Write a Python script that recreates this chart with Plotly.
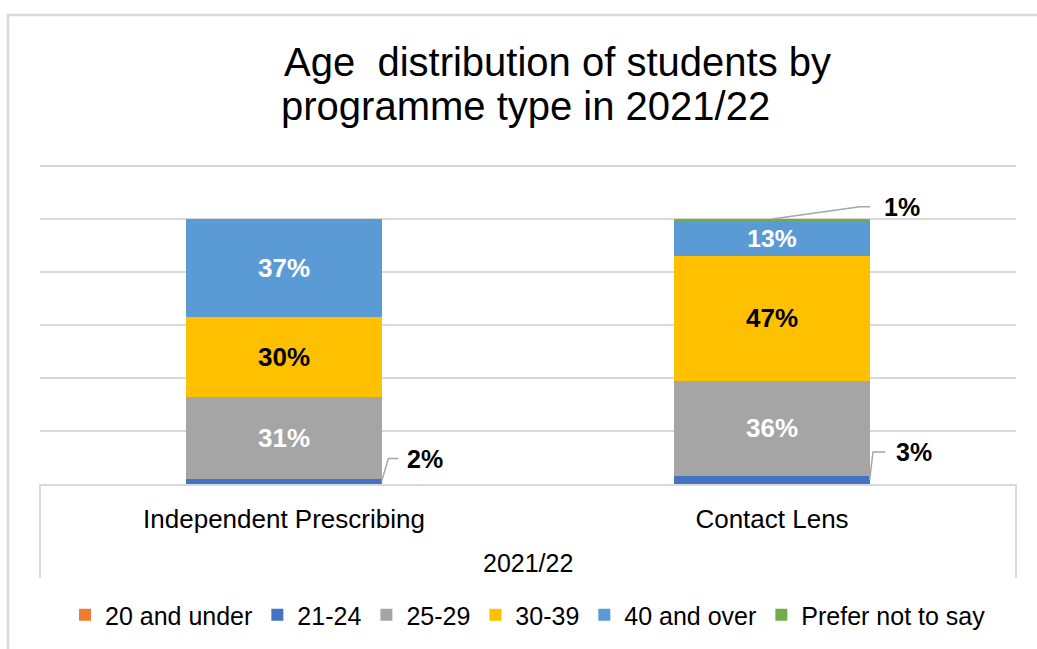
import plotly.graph_objects as go

# Programme types (x categories) and the academic year grouping them
categories = ["Independent Prescribing", "Contact Lens"]
year_label = "2021/22"

# Age bands and their share of students (%) per programme
age_groups = ["20 and under", "21-24", "25-29", "30-39", "40 and over", "Prefer not to say"]
age_20_under = [0, 0]
age_21_24 = [2, 3]
age_25_29 = [31, 36]
age_30_39 = [30, 47]
age_40_over = [37, 13]
age_prefer_not = [0, 1]

series = [age_20_under, age_21_24, age_25_29, age_30_39, age_40_over, age_prefer_not]
colors = ["#ED7D31", "#4472C4", "#A5A5A5", "#FFC000", "#5B9BD5", "#70AD47"]
# bands labelled inside the bar, with the label colour to use
inside_label_color = {2: "white", 3: "black", 4: "white"}

FONT = "Liberation Sans, Arial, sans-serif"
W, H = 1037, 649
L, R, T, B = 40, 21, 165, 165
plot_w = W - L - R
plot_h = H - T - B
Y_MAX = 120.4
BAR_HALF = 0.2


def px_x(x):
    """Pixel x -> paper x."""
    return (x - L) / plot_w


def px_y(y):
    """Pixel y -> paper y."""
    return (H - B - y) / plot_h


fig = go.Figure()

for i, (name, vals, col) in enumerate(zip(age_groups, series, colors)):
    if i in inside_label_color:
        text = [f"{v}%" for v in vals]
        tfont = dict(family=FONT, size=26, color=inside_label_color[i], weight="bold")
    else:
        text = None
        tfont = None
    fig.add_trace(go.Bar(
        x=categories, y=vals, name=name,
        marker=dict(color=col, line=dict(width=0)),
        text=text, textposition="inside" if text else None,
        insidetextanchor="middle", textangle=0,
        textfont=tfont, hoverinfo="skip",
    ))


def stack_base(series_index, cat_index):
    return sum(s[cat_index] for s in series[:series_index])


# Small bands get their value outside the bar with a bent leader line:
# (series index, category index, leader start at bar edge?, bend x, bend y, end x, label x)
small_labels = [
    (1, 0, True, 0.214, 9.6, 0.234, 0.247),
    (1, 1, True, 1.207, 12.1, 1.232, 1.251),
    (5, 1, False, 1.18, 104.6, 1.201, 1.226),
]
for si, ci, at_edge, bx, by, ex, lx in small_labels:
    val = series[si][ci]
    base = stack_base(si, ci)
    if at_edge:
        sx, sy = ci + BAR_HALF, base + val / 2
    else:
        sx, sy = ci, base + val
    fig.add_shape(type="path", xref="x", yref="y",
                  path=f"M {sx},{sy} L {bx},{by} L {ex},{by}",
                  line=dict(color="#A6A6A6", width=1.5))
    fig.add_annotation(x=lx, y=by, xref="x", yref="y", text=f"<b>{val}%</b>",
                       showarrow=False, xanchor="left", yanchor="middle",
                       font=dict(family=FONT, size=25, color="black"))

# Title, two lines, left aligned
fig.add_annotation(x=px_x(282), y=px_y(62), xref="paper", yref="paper",
                   text="Age  distribution of students by", showarrow=False,
                   xanchor="left", yanchor="middle",
                   font=dict(family=FONT, size=40, color="black"))
fig.add_annotation(x=px_x(279), y=px_y(106), xref="paper", yref="paper",
                   text="programme type in 2021/22", showarrow=False,
                   xanchor="left", yanchor="middle",
                   font=dict(family=FONT, size=40, color="black"))

# Outer group label under the categories
fig.add_annotation(x=0.5, y=px_y(563), xref="paper", yref="paper",
                   text=year_label, showarrow=False, xanchor="center", yanchor="middle",
                   font=dict(family=FONT, size=25, color="black"))

grey = "#D9D9D9"
# Group box sides below the axis
for xp in (0, 1):
    fig.add_shape(type="line", xref="paper", yref="paper",
                  x0=xp, x1=xp, y0=0, y1=px_y(578), line=dict(color=grey, width=2))
# Chart frame (top and left edges)
fig.add_shape(type="line", xref="paper", yref="paper",
              x0=px_x(7), x1=px_x(W + 5), y0=px_y(15), y1=px_y(15),
              line=dict(color=grey, width=2.5))
fig.add_shape(type="line", xref="paper", yref="paper",
              x0=px_x(8), x1=px_x(8), y0=px_y(15), y1=px_y(H + 5),
              line=dict(color=grey, width=2.5))

fig.update_layout(
    width=W, height=H,
    margin=dict(l=L, r=R, t=T, b=B, autoexpand=False),
    barmode="stack", bargap=0.6,
    plot_bgcolor="white", paper_bgcolor="white",
    font=dict(family=FONT, color="black"),
    showlegend=True,
    legend=dict(orientation="h", x=0.5, xanchor="center",
                y=px_y(615), yanchor="middle",
                font=dict(family=FONT, size=25, color="black"),
                itemclick=False, itemdoubleclick=False,
                traceorder="normal", itemwidth=30),
    xaxis=dict(showline=True, linecolor=grey, linewidth=2,
               ticks="outside", ticklen=11, tickcolor="rgba(0,0,0,0)",
               tickfont=dict(family=FONT, size=26, color="black"),
               showgrid=False, fixedrange=True),
    yaxis=dict(range=[0, Y_MAX], dtick=20, showticklabels=False,
               showgrid=True, gridcolor=grey, gridwidth=2,
               zeroline=False, fixedrange=True),
)

fig.write_html("out.html")
